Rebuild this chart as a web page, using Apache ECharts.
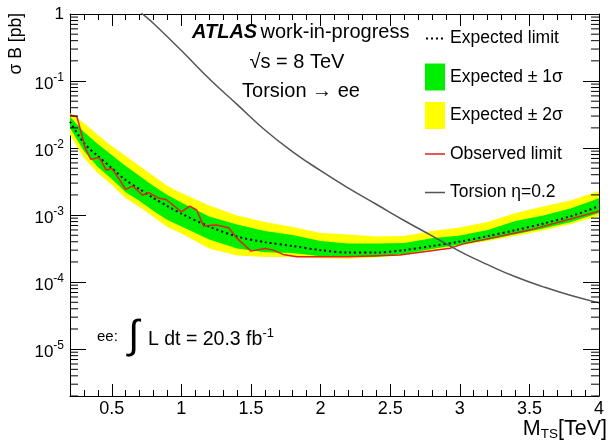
<!DOCTYPE html>
<html lang="en">
<head>
<meta charset="UTF-8">
<title>Torsion limit</title>
<style>
  html, body { margin: 0; padding: 0; background: #fff; }
  #main { width: 610px; height: 444px; }
</style>
</head>
<body>
<div id="main"></div>
<script src="https://cdn.jsdelivr.net/npm/echarts@6/dist/echarts.min.js"></script>
<script>
// mass points (TeV) for the expected limit and bands
var mass = [0.2, 0.3, 0.4, 0.5, 0.6, 0.7, 0.8, 0.9, 1.0, 1.2, 1.4, 1.6, 1.8, 2.0, 2.2, 2.4, 2.6, 2.8, 3.0, 3.2, 3.4, 3.6, 3.8, 4.0];
var expected = [0.0247, 0.0119, 0.0076, 0.00503, 0.00333, 0.00244, 0.00179, 0.00136, 0.00105, 6.74e-4, 4.78e-4, 3.95e-4, 3.45e-4, 3.00e-4, 2.76e-4, 2.76e-4, 3.00e-4, 3.45e-4, 4.02e-4, 4.86e-4, 5.97e-4, 7.47e-4, 9.66e-4, 0.00136];
var sig1Up = [0.0293, 0.0173, 0.0115, 0.00786, 0.00539, 0.00382, 0.00271, 0.00199, 0.00154, 9.50e-4, 7.22e-4, 5.77e-4, 5.03e-4, 4.09e-4, 3.76e-4, 3.76e-4, 3.82e-4, 4.53e-4, 4.94e-4, 5.97e-4, 8.14e-4, 9.83e-4, 0.00127, 0.00179];
var sig1Down = [0.0199, 0.00902, 0.0052, 0.00345, 0.0022, 0.00162, 0.00115, 8.42e-4, 6.74e-4, 4.31e-4, 3.16e-4, 2.80e-4, 2.71e-4, 2.44e-4, 2.40e-4, 2.40e-4, 2.62e-4, 3.11e-4, 3.63e-4, 4.24e-4, 5.20e-4, 6.29e-4, 7.86e-4, 0.00107];
var sig2Up = [0.0333, 0.0236, 0.0156, 0.0107, 0.0076, 0.00539, 0.00382, 0.00271, 0.00213, 0.00139, 9.83e-4, 7.86e-4, 6.62e-4, 5.39e-4, 5.12e-4, 4.78e-4, 4.86e-4, 5.77e-4, 6.51e-4, 7.86e-4, 0.00107, 0.00134, 0.00167, 0.00228];
var sig2Down = [0.0158, 0.00709, 0.00424, 0.0028, 0.00179, 0.00132, 9.33e-4, 6.62e-4, 5.30e-4, 3.16e-4, 2.49e-4, 2.36e-4, 2.36e-4, 2.28e-4, 2.24e-4, 2.32e-4, 2.53e-4, 3.00e-4, 3.51e-4, 4.09e-4, 4.86e-4, 5.87e-4, 7.34e-4, 9.66e-4];

// observed limit
var obsMass = [0.2, 0.25, 0.31, 0.35, 0.41, 0.46, 0.5, 0.55, 0.6, 0.65, 0.72, 0.77, 0.84, 0.89, 1.0, 1.06, 1.11, 1.16, 1.25, 1.34, 1.4, 1.5, 1.6, 1.66, 1.73, 1.83, 1.92, 2.2, 2.57, 2.93, 3.02, 3.5, 4.0];
var observed = [0.0311, 0.0293, 0.0099, 0.00678, 0.00726, 0.0047, 0.00498, 0.00353, 0.00242, 0.00271, 0.00199, 0.00215, 0.00178, 0.00171, 0.00112, 0.00136, 0.00119, 6.85e-4, 7.1e-4, 6.46e-4, 4.49e-4, 2.9e-4, 3.18e-4, 3.0e-4, 2.59e-4, 2.39e-4, 2.39e-4, 2.39e-4, 2.53e-4, 3.21e-4, 3.69e-4, 5.97e-4, 0.00114];

// theory curve
var torsionMass = [0.6, 0.7, 0.8, 1.0, 1.2, 1.4, 1.6, 1.8, 2.0, 2.2, 2.4, 2.6, 2.8, 3.0, 3.2, 3.4, 3.6, 3.8, 4.0];
var torsion = [1.78, 1.1, 0.72, 0.285, 0.108, 0.0448, 0.0186, 0.0088, 0.0046, 0.00253, 0.00145, 8.3e-4, 4.9e-4, 2.88e-4, 1.82e-4, 1.2e-4, 8.5e-5, 6.3e-5, 4.9e-5];

var legendNames = ['Expected limit', 'Expected \u00b1 1\u03c3', 'Expected \u00b1 2\u03c3', 'Observed limit', 'Torsion \u03b7=0.2'];

var xMin = 0.2, xMax = 4, yMin = 2e-6, yMax = 1;
var font = 'Liberation Sans, Arial, Helvetica, sans-serif';

// legend icons for lines: tiny corner marks keep the 20x27 box
var iconBox = 'M0,0 L0.01,0 L0.01,0.01 Z M19.99,26.99 L20,26.99 L20,27 Z ';
var dottedIcon = 'path://' + iconBox + 'M1,12.5 h2 v2 h-2 Z M6,12.5 h2 v2 h-2 Z M11,12.5 h2 v2 h-2 Z M16,12.5 h2 v2 h-2 Z';
var solidIcon = 'path://' + iconBox + 'M0,12.75 L20,12.75 L20,14.25 L0,14.25 Z';

function pairs(xs, ys) {
    return xs.map(function (x, i) { return [x, ys[i]]; });
}

function band(name, up, down, color, z) {
    return {
        name: name,
        type: 'custom',
        z: z,
        clip: true,
        silent: true,
        itemStyle: { color: color },
        data: [[mass[0], up[0]]],
        renderItem: function (params, api) {
            var pts = [];
            for (var i = 0; i < mass.length; i++) pts.push(api.coord([mass[i], up[i]]));
            for (var j = mass.length - 1; j >= 0; j--) pts.push(api.coord([mass[j], down[j]]));
            return { type: 'polygon', shape: { points: pts }, style: { fill: color } };
        }
    };
}

// log minor ticks (2..9 x 10^n) on both sides of the frame
function minorTicks() {
    return {
        type: 'custom',
        silent: true,
        z: 10,
        clip: false,
        data: [[xMin, yMax]],
        renderItem: function (params, api) {
            var cs = params.coordSys;
            var kids = [];
            for (var e = -6; e < 0; e++) {
                for (var k = 2; k <= 9; k++) {
                    var v = k * Math.pow(10, e);
                    if (v < yMin || v > yMax) continue;
                    var y = api.coord([xMin, v])[1];
                    kids.push({ type: 'line', shape: { x1: cs.x, y1: y, x2: cs.x + 8, y2: y }, style: { stroke: '#000', lineWidth: 1 } });
                    kids.push({ type: 'line', shape: { x1: cs.x + cs.width, y1: y, x2: cs.x + cs.width - 8, y2: y }, style: { stroke: '#000', lineWidth: 1 } });
                }
            }
            return { type: 'group', children: kids };
        }
    };
}

function xAx(pos, major) {
    var a = {
        type: 'value', min: xMin, max: xMax, position: pos,
        axisLine: { show: major, lineStyle: { color: '#000', width: 1 } },
        axisTick: { inside: true, length: major ? 12 : 6, lineStyle: { color: '#000' } },
        axisLabel: { show: false },
        splitLine: { show: false }
    };
    if (major) a.splitNumber = 8; else a.interval = 0.1;
    return a;
}

var xAxes = [xAx('bottom', true), xAx('bottom', false), xAx('top', true), xAx('top', false)];
xAxes[0].axisLabel = { show: true, fontSize: 18, color: '#000', margin: 4, showMinLabel: false, fontFamily: font };

function yAx(pos, labels) {
    return {
        type: 'log', min: yMin, max: yMax, position: pos,
        axisLine: { show: true, lineStyle: { color: '#000', width: 1 } },
        axisTick: { inside: true, length: 16, lineStyle: { color: '#000' } },
        splitLine: { show: false },
        axisLabel: labels ? {
            show: true, margin: 6, color: '#000', showMinLabel: false,
            formatter: function (v) {
                var e = Math.round(Math.log10(v));
                if (e === 0) return '{o|1}';
                return '{b|10}{s|' + e + '}';
            },
            rich: {
                o: { fontSize: 17, fontFamily: font, color: '#000' },
                b: { fontSize: 17, fontFamily: font, color: '#000', padding: [6, 0, 0, 0] },
                s: { fontSize: 12, fontFamily: font, color: '#000', padding: [0, 0, 6, 0] }
            }
        } : { show: false }
    };
}

var chart = echarts.init(document.getElementById('main'), null, { renderer: 'canvas' });
chart.setOption({
    animation: false,
    backgroundColor: '#fff',
    textStyle: { fontFamily: font },
    grid: { left: 70, right: 11, top: 14, bottom: 48 },
    xAxis: xAxes,
    yAxis: [yAx('left', true), yAx('right', false)],
    legend: {
        data: [
            { name: legendNames[0], icon: dottedIcon },
            { name: legendNames[1], icon: 'rect' },
            { name: legendNames[2], icon: 'rect' },
            { name: legendNames[3], icon: solidIcon },
            { name: legendNames[4], icon: solidIcon }
        ],
        orient: 'vertical',
        left: 425, top: 25,
        itemWidth: 20, itemHeight: 27, itemGap: 11.5,
        padding: 0,
        selectedMode: false,
        textStyle: { fontSize: 17.5, color: '#000', fontFamily: font }
    },
    series: [
        band(legendNames[2], sig2Up, sig2Down, '#ffff00', 1),
        band(legendNames[1], sig1Up, sig1Down, '#00ee00', 2),
        {
            name: legendNames[0], type: 'line', symbol: 'none', smooth: 0.3, z: 4,
            lineStyle: { color: '#000', width: 2, type: [2, 3] },
            itemStyle: { color: '#000' },
            data: pairs(mass, expected)
        },
        {
            name: legendNames[3], type: 'line', symbol: 'none', z: 5,
            lineStyle: { color: '#e41e1e', width: 1.5 },
            itemStyle: { color: '#e41e1e' },
            data: pairs(obsMass, observed)
        },
        {
            name: legendNames[4], type: 'line', symbol: 'none', smooth: true, z: 6,
            lineStyle: { color: '#555', width: 1.5 },
            itemStyle: { color: '#555' },
            data: pairs(torsionMass, torsion)
        },
        minorTicks()
    ],
    graphic: [
        { type: 'text', x: 192, y: 32, z: 20, style: {
            text: '{a|ATLAS} {b|work-in-progress}', verticalAlign: 'middle', textAlign: 'left',
            rich: {
                a: { fontSize: 20, fontWeight: 'bold', fontStyle: 'italic', fontFamily: font, fill: '#000' },
                b: { fontSize: 20, fontFamily: font, fill: '#000' }
            }
        } },
        { type: 'text', x: 297, y: 62, z: 20, style: { text: '\u221as = 8 TeV', fontSize: 20, fontFamily: font, fill: '#000', textAlign: 'center', verticalAlign: 'middle' } },
        { type: 'text', x: 301, y: 91, z: 20, style: { text: 'Torsion \u2192 ee', fontSize: 20, fontFamily: font, fill: '#000', textAlign: 'center', verticalAlign: 'middle' } },
        { type: 'text', x: 97, y: 337, z: 20, style: { text: 'ee:', fontSize: 15, fontFamily: font, fill: '#000', verticalAlign: 'middle' } },
        { type: 'text', x: 128, y: 337, z: 20, style: { text: '\u222b', fontSize: 40, fontFamily: font, fill: '#000', verticalAlign: 'middle' } },
        { type: 'text', x: 148, y: 337, z: 20, style: {
            text: '{m|L dt = 20.3 fb}{s|-1}', verticalAlign: 'middle',
            rich: {
                m: { fontSize: 19.5, fontFamily: font, fill: '#000', padding: [6, 0, 0, 0] },
                s: { fontSize: 13, fontFamily: font, fill: '#000', padding: [0, 0, 7, 0] }
            }
        } },
        { type: 'text', x: 16, y: 13, z: 20, rotation: Math.PI / 2, style: { text: '\u03c3 B [pb]', fontSize: 17.5, fontFamily: font, fill: '#000', textAlign: 'right', verticalAlign: 'middle' } },
        { type: 'text', x: 607, y: 429, z: 20, style: {
            text: '{m|M}{s|TS}{m|[TeV]}', textAlign: 'right', verticalAlign: 'middle',
            rich: {
                m: { fontSize: 21.5, fontFamily: font, fill: '#000' },
                s: { fontSize: 13.5, fontFamily: font, fill: '#000', padding: [10, 0, 0, 0] }
            }
        } }
    ]
});
</script>
</body>
</html>
